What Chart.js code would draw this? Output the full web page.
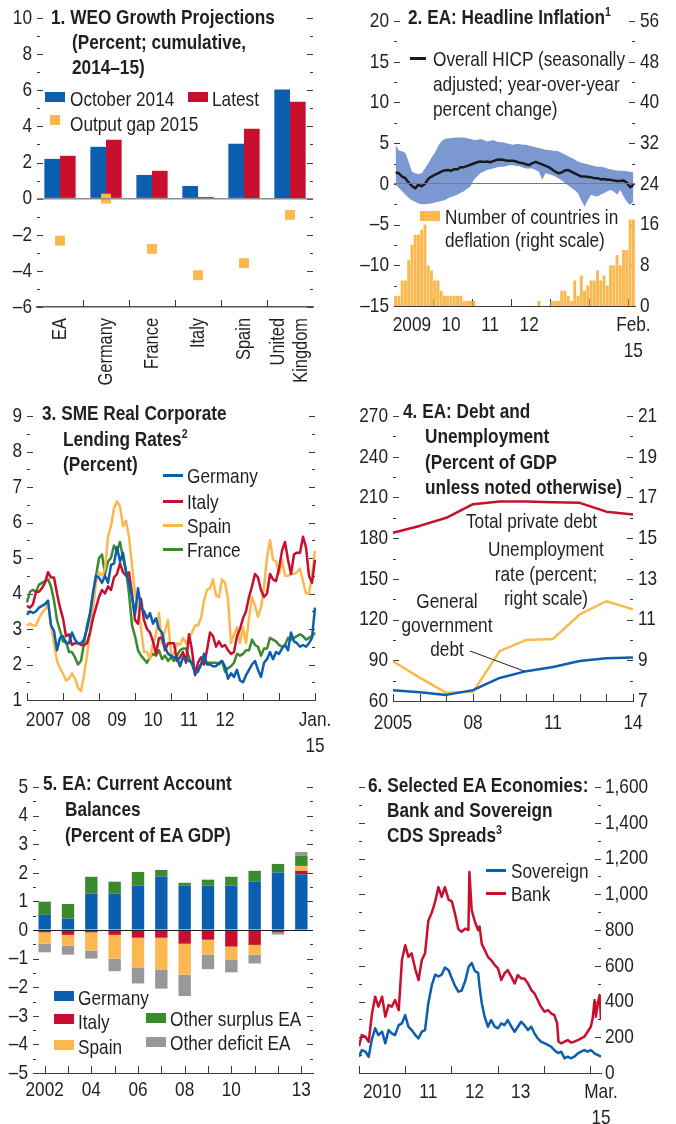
<!DOCTYPE html>
<html>
<head>
<meta charset="utf-8">
<script src="https://cdn.jsdelivr.net/npm/chart.js@4.4.1/dist/chart.umd.min.js"></script>
<style>
  body { margin: 0; background: #fff; }
  #page { position: relative; width: 676px; height: 1124px; overflow: hidden; color: #231f20;
    font-family: "Liberation Sans", Arial, sans-serif; }
  canvas { position: absolute; }
  /* condensed look: Liberation Sans squeezed to ~Arial Narrow */
  .t { position: absolute; white-space: nowrap; font-size: 21px; line-height: 25px;
    transform: scaleX(0.82); transform-origin: 0 0; }
  .c { transform-origin: 50% 0; text-align: center; }
  .h { font-weight: bold; }
  sup { font-size: 13px; line-height: 0; vertical-align: 8px; }
  .sw { position: absolute; }
</style>
</head>
<body>
<div id="page">
  <canvas id="c1" width="338" height="390" style="left:0;top:0"></canvas>
  <canvas id="c2" width="338" height="390" style="left:338px;top:0"></canvas>
  <canvas id="c3" width="338" height="375" style="left:0;top:390px"></canvas>
  <canvas id="c4" width="338" height="375" style="left:338px;top:390px"></canvas>
  <canvas id="c5" width="338" height="359" style="left:0;top:765px"></canvas>
  <canvas id="c6" width="338" height="359" style="left:338px;top:765px"></canvas>

  <!-- 1 -->
  <div class="t h" style="left:51px;top:4px;padding-left:25.6px;text-indent:-25.6px">1. WEO Growth Projections<br>(Percent; cumulative,<br>2014–15)</div>
  <div class="sw" style="left:45px;top:92px;width:20px;height:10px;background:#0b5fae"></div>
  <div class="t" style="left:70px;top:86px">October 2014</div>
  <div class="sw" style="left:188px;top:92px;width:20px;height:10px;background:#c8102e"></div>
  <div class="t" style="left:212px;top:86px">Latest</div>
  <div class="sw" style="left:50px;top:115px;width:10px;height:10px;background:#fbb84f"></div>
  <div class="t" style="left:70px;top:111px">Output gap 2015</div>

  <!-- 2 -->
  <div class="t h" style="left:408px;top:4px">2. EA: Headline Inflation<sup>1</sup></div>
  <div class="sw" style="left:410px;top:57px;width:16px;height:3px;background:#1a1a1a"></div>
  <div class="t" style="left:433px;top:46px">Overall HICP (seasonally<br>adjusted; year-over-year<br>percent change)</div>
  <div class="sw" style="left:420px;top:211px;width:20px;height:10px;background:#fbb84f"></div>
  <div class="t" style="left:445px;top:205px;line-height:23px">Number of countries in<br>deflation (right scale)</div>

  <!-- 3 -->
  <div class="t h" style="left:42px;top:400px;line-height:25.5px;padding-left:25.6px;text-indent:-25.6px">3. SME Real Corporate<br>Lending Rates<sup>2</sup><br>(Percent)</div>
  <div class="sw" style="left:163px;top:474px;width:20px;height:3px;background:#0b5fae"></div>
  <div class="t" style="left:187px;top:463px">Germany</div>
  <div class="sw" style="left:163px;top:500px;width:20px;height:3px;background:#c8102e"></div>
  <div class="t" style="left:187px;top:489px">Italy</div>
  <div class="sw" style="left:163px;top:524px;width:20px;height:3px;background:#fbb84f"></div>
  <div class="t" style="left:187px;top:513px">Spain</div>
  <div class="sw" style="left:163px;top:548px;width:20px;height:3px;background:#3b8a2e"></div>
  <div class="t" style="left:187px;top:537px">France</div>

  <!-- 4 -->
  <div class="t h" style="left:403px;top:398px;line-height:25.3px;padding-left:26.8px;text-indent:-26.8px">4. EA: Debt and<br>Unemployment<br>(Percent of GDP<br>unless noted otherwise)</div>
  <div class="t" style="left:466px;top:508px">Total private debt</div>
  <div class="t c" style="left:446px;top:537px;width:200px;line-height:24.5px">Unemployment<br>rate (percent;<br>right scale)</div>
  <div class="t c" style="left:387px;top:589px;width:120px;line-height:24px">General<br>government<br>debt</div>

  <!-- 5 -->
  <div class="t h" style="left:43px;top:770px;line-height:26px;padding-left:26.8px;text-indent:-26.8px">5. EA: Current Account<br>Balances<br>(Percent of EA GDP)</div>
  <div class="sw" style="left:54px;top:991px;width:20px;height:10px;background:#0b5fae"></div>
  <div class="t" style="left:78px;top:985px">Germany</div>
  <div class="sw" style="left:54px;top:1014px;width:20px;height:10px;background:#c8102e"></div>
  <div class="t" style="left:78px;top:1009px">Italy</div>
  <div class="sw" style="left:54px;top:1040px;width:20px;height:10px;background:#fbb84f"></div>
  <div class="t" style="left:78px;top:1034px">Spain</div>
  <div class="sw" style="left:146px;top:1013px;width:20px;height:10px;background:#3b8a2e"></div>
  <div class="t" style="left:170px;top:1006px">Other surplus EA</div>
  <div class="sw" style="left:146px;top:1037px;width:20px;height:10px;background:#98989b"></div>
  <div class="t" style="left:170px;top:1030px">Other deficit EA</div>

  <!-- 6 -->
  <div class="t h" style="left:368px;top:772px;padding-left:23.2px;text-indent:-23.2px">6. Selected EA Economies:<br>Bank and Sovereign<br>CDS Spreads<sup>3</sup></div>
  <div class="sw" style="left:486px;top:869px;width:20px;height:3px;background:#0b5fae"></div>
  <div class="t" style="left:511px;top:858px">Sovereign</div>
  <div class="sw" style="left:486px;top:892px;width:20px;height:3px;background:#c8102e"></div>
  <div class="t" style="left:511px;top:881px">Bank</div>
</div>

<script>
const BLUE = '#0b5fae', RED = '#c8102e', YELLOW = '#fbb84f', GREEN = '#3b8a2e';
const GREY = '#98989b', BAND = '#7c98d1', INK = '#231f20';
const FONT = '"Liberation Sans", Arial, sans-serif';
const NARROW = 0.82;

// 1. WEO growth projections
const weoCountries = ['EA', 'Germany', 'France', 'Italy', 'Spain', ['United', 'Kingdom']];
const weoOct2014 = [2.2, 2.87, 1.31, 0.7, 3.04, 6.04];
const weoLatest = [2.37, 3.26, 1.54, 0.09, 3.87, 5.37];
const outputGap2015 = [-2.33, 0.0, -2.78, -4.24, -3.57, -0.9];

// 2. headline inflation, Jan 2009 - Feb 2015
const deflationCount = [2, 2, 5, 5, 9, 12, 14, 14, 15, 16, 8, 7,
  5, 5, 3, 2, 2, 2, 2, 2, 2, 1, 1, 1,
  1, 0, 0, 0, 0, 0, 0, 0, 0, 0, 0, 0,
  0, 0, 0, 0, 0, 0, 0, 0, 1, 0, 0, 0,
  1, 1, 1, 3, 3, 2, 1, 5, 2, 6, 3, 4,
  5, 5, 7, 5, 6, 4, 8, 8, 10, 8, 11, 11,
  17, 17];
const hicp = [1.4, 1.3, 0.9, 0.7, 0.15, -0.25, -0.55, -0.1, -0.3, 0.0, 0.6, 0.9,
  1.1, 1.3, 1.5, 1.65, 1.7, 1.6, 1.8, 1.8, 2.05, 2.05, 2.2, 2.35,
  2.5, 2.65, 2.75, 2.7, 2.75, 2.65, 2.8, 2.95, 3.0, 2.95, 2.85, 2.85,
  2.85, 2.75, 2.6, 2.55, 2.4, 2.3, 2.55, 2.7, 2.55, 2.4, 2.2, 2.05,
  1.8, 1.5, 1.3, 1.4, 1.65, 1.7, 1.5, 1.3, 1.1, 0.9, 0.9, 0.85,
  0.8, 0.7, 0.7, 0.55, 0.6, 0.5, 0.5, 0.4, 0.35, 0.35, 0.4, 0.15,
  -0.4, -0.15];
const hicpHigh = [4.8, 4.1, 4.0, 3.8, 2.7, 1.5, 1.3, 1.2, 1.3, 1.9, 2.5, 3.2,
  3.8, 4.6, 5.2, 5.5, 5.6, 5.6, 5.7, 5.7, 5.7, 5.7, 5.6, 5.5,
  5.4, 5.4, 5.5, 5.4, 5.2, 5.3, 5.4, 5.2, 5.1, 5.1, 5.0, 4.9,
  4.8, 4.9, 4.9, 4.8, 4.8, 4.7, 4.6, 4.5, 4.4, 4.3, 4.2, 4.15,
  4.1, 4.05, 4.0, 3.8, 3.6, 3.4, 3.2, 3.0, 2.75, 2.6, 2.5, 2.4,
  2.3, 2.2, 2.1, 2.1, 2.05, 1.9, 1.8, 1.7, 1.65, 1.6, 1.6, 1.55,
  1.5, 1.4];
const hicpLow = [-0.1, -0.5, -0.9, -1.35, -1.7, -2.0, -2.2, -2.4, -2.5, -2.5, -2.45, -2.4,
  -2.3, -2.2, -2.1, -2.0, -1.8, -1.6, -1.5, -1.35, -1.1, -0.9, -0.6, -0.3,
  0.5, 0.9, 1.3, 1.5, 1.7, 1.8, 1.9, 2.0, 2.1, 2.1, 2.2, 2.3,
  2.3, 2.2, 2.2, 2.0, 1.9, 1.9, 1.9, 1.7, 1.5, 0.5, 1.3, 1.2,
  1.1, 0.9, 0.7, 0.4, 0.1, -0.2, -0.5, -0.8, -1.15, -2.0, -2.8, -2.0,
  -1.35, -1.5, -1.55, -1.3, -1.15, -0.9, -0.75, -0.95, -1.35, -0.75, -1.55, -2.2,
  -2.6, -2.2];
const inflTickIdx = [5, 17, 29, 41, 73];
const inflTickLabels = ['2009', '10', '11', '12', ['Feb.', '15']];

// 3. SME lending rates, Jan 2007 - Jan 2015
const smeGermany = [3.4, 3.5, 3.45, 3.5, 3.6, 3.65, 3.7, 3.8, 3.1, 2.95, 2.4, 2.75,
  2.8, 2.6, 2.6, 2.9, 2.7, 2.6, 2.6, 2.7, 3.0, 3.4, 4.0, 4.5,
  4.45, 4.3, 4.5, 4.3, 4.8, 4.85, 5.3, 4.9, 5.15, 4.6, 4.3, 3.9,
  3.4, 4.15, 3.6, 3.5, 3.3, 3.45, 3.15, 3.3, 3.0, 2.9, 2.5, 2.3,
  2.25, 2.2, 2.2, 1.95, 2.2, 2.15, 2.1, 2.05, 1.75, 1.8, 2.0, 2.3,
  2.0, 2.0, 1.95, 1.95, 2.05, 2.1, 1.95, 1.6, 1.75, 1.65, 1.85, 1.55,
  1.5, 1.7, 1.85, 2.0, 2.1, 1.85, 1.65, 2.05, 2.15, 2.35, 2.15, 2.35,
  2.3, 2.45, 2.55, 2.4, 2.9, 2.65, 2.6, 2.5, 2.55, 2.5, 2.6, 2.75,
  3.6];
const smeItaly = [3.65, 3.6, 3.7, 4.05, 4.05, 4.15, 4.3, 4.6, 4.45, 4.45, 4.0, 3.6,
  3.3, 2.8, 2.85, 2.55, 2.6, 2.6, 2.55, 2.55, 2.6, 2.9, 3.3, 3.6,
  3.9, 4.1, 4.0, 4.2, 4.1, 4.45, 4.55, 4.85, 4.6, 4.5, 4.6, 4.0,
  3.25, 3.15, 3.85, 3.25, 3.0, 2.9, 2.65, 2.3, 2.75, 2.75, 2.4, 2.6,
  2.6, 2.6, 2.1, 2.2, 2.35, 2.05, 2.85, 2.4, 1.7, 2.05, 2.2, 2.0,
  2.4, 2.9, 2.8, 2.5, 2.65, 2.5, 2.55, 2.4, 2.3, 2.35, 2.8, 3.0,
  3.3, 3.5, 3.9, 4.2, 4.55, 4.45, 4.1, 3.9, 4.0, 4.55, 4.4, 4.35,
  4.7, 5.2, 5.45, 4.95, 4.55, 5.1, 5.15, 5.15, 5.6, 5.3, 4.5, 4.3,
  4.95];
const smeSpain = [3.1, 3.15, 3.1, 3.1, 3.3, 3.45, 3.55, 3.7, 3.1, 2.6, 2.1, 1.9,
  1.75, 1.55, 1.6, 1.75, 1.6, 1.35, 1.25, 1.7, 2.25, 2.9, 3.6, 4.3,
  4.6, 4.5, 4.7, 5.6, 5.9, 6.4, 6.6, 6.45, 5.9, 6.05, 5.6, 4.8,
  4.0, 3.7, 3.0, 2.35, 2.35, 2.15, 2.6, 2.85, 3.45, 2.6, 2.95, 3.25,
  2.3, 2.3, 2.6, 2.55, 2.75, 2.6, 2.75, 2.9, 3.1, 3.1, 3.3, 3.8,
  4.1, 4.15, 4.4, 3.95, 3.9, 4.4, 4.3, 3.85, 2.6, 2.85, 3.05, 2.6,
  3.05, 2.6, 3.3, 3.9, 3.65, 3.35, 3.6, 4.2, 5.0, 5.5, 4.95, 4.9,
  4.55, 4.95, 4.5, 4.5, 4.55, 4.55, 4.6, 4.7, 4.35, 4.0, 4.0, 4.5,
  5.2];
const smeFrance = [3.75, 4.05, 4.1, 4.05, 4.25, 4.3, 4.35, 4.4, 4.2, 3.8, 3.25, 2.95,
  2.65, 2.65, 2.35, 2.35, 2.2, 2.0, 2.1, 2.6, 3.1, 3.45, 4.0, 4.5,
  5.0, 5.1, 4.55, 4.9, 5.0, 5.35, 5.2, 5.45, 5.0, 4.65, 4.0, 3.1,
  2.8, 2.4, 2.25, 2.15, 2.05, 2.2, 2.3, 2.25, 2.4, 2.15, 2.25, 2.1,
  2.2, 2.1, 2.25, 2.4, 2.45, 2.45, 2.2, 2.0, 1.8, 1.9, 2.0, 2.05,
  2.05, 2.05, 2.05, 2.05, 2.0, 2.1, 1.8, 1.9, 1.95, 2.05, 2.3, 2.25,
  2.3, 2.4, 2.4, 2.7, 2.55, 2.5, 2.25, 2.45, 2.45, 2.75, 2.7, 2.65,
  2.55, 2.5, 2.55, 2.75, 2.7, 2.75, 2.8, 2.85, 2.8, 2.7, 2.75, 2.8,
  2.9];
const smeTickIdx = [6, 18, 30, 42, 54, 66, 96];
const smeTickLabels = ['2007', '08', '09', '10', '11', '12', ['Jan.', '15']];

// 4. debt and unemployment
const debtYears = ['2005', '2006', '2007', '2008', '2009', '2010', '2011', '2012', '2013', '2014'];
const privateDebt = [184, 189, 195, 205, 207, 207, 206.5, 206, 199.5, 197.5];
const govDebt = [68, 66.5, 64.5, 68, 77, 82, 85, 89.5, 91.5, 92];
const unemployment = [8.95, 8.15, 7.4, 7.45, 9.45, 10.0, 10.05, 11.25, 11.9, 11.5];
const debtTickIdx = [0, 3, 6, 9];
const debtTickLabels = ['2005', '08', '11', '14'];

// 5. current account balances
const caYears = ['2002', '2003', '2004', '2005', '2006', '2007', '2008', '2009', '2010', '2011', '2012', '2013'];
const caGermany = [0.53, 0.40, 1.27, 1.27, 1.55, 1.87, 1.55, 1.55, 1.55, 1.70, 2.01, 1.95];
const caItaly = [-0.08, -0.17, -0.08, -0.17, -0.27, -0.27, -0.48, -0.34, -0.58, -0.52, -0.08, 0.12];
const caSpain = [-0.40, -0.38, -0.64, -0.83, -1.04, -1.11, -1.08, -0.52, -0.45, -0.34, 0, 0.17];
const caOtherSurplus = [0.46, 0.51, 0.59, 0.42, 0.48, 0.23, 0.10, 0.21, 0.31, 0.37, 0.30, 0.35];
const caOtherDeficit = [-0.30, -0.31, -0.28, -0.44, -0.56, -0.67, -0.75, -0.51, -0.45, -0.31, -0.08, 0.14];
const caTickIdx = [0, 2, 4, 6, 8, 11];
const caTickLabels = ['2002', '04', '06', '08', '10', '13'];

// 6. CDS spreads (time in years)
const cdsTime = [2010.00, 2010.06, 2010.14, 2010.21, 2010.28, 2010.35, 2010.42, 2010.50, 2010.57, 2010.64, 2010.71, 2010.78, 2010.86, 2010.93,
  2011.00, 2011.07, 2011.14, 2011.22, 2011.29, 2011.36, 2011.43, 2011.50, 2011.58, 2011.65, 2011.72, 2011.79, 2011.86, 2011.94,
  2012.01, 2012.08, 2012.15, 2012.22, 2012.30, 2012.37, 2012.39, 2012.44, 2012.51, 2012.58,
  2012.61, 2012.66, 2012.72, 2012.79, 2012.86, 2012.94,
  2013.01, 2013.08, 2013.15, 2013.22, 2013.30, 2013.37, 2013.44, 2013.51, 2013.58, 2013.66, 2013.73, 2013.80, 2013.87, 2013.94,
  2014.02, 2014.09, 2014.16, 2014.23, 2014.29, 2014.32, 2014.38, 2014.45, 2014.52, 2014.59, 2014.66, 2014.74, 2014.81, 2014.88, 2014.95,
  2015.02, 2015.06, 2015.10, 2015.13, 2015.17, 2015.21, 2015.24];
const cdsBank = [150, 212, 203, 175, 330, 427, 371, 427, 315, 380, 371, 408, 352, 632,
  715, 650, 669, 580, 520, 632, 669, 850, 900, 960, 1040, 986, 1040, 970,
  960, 890, 805, 790, 808, 800, 1125, 911, 846, 799,
  820, 720, 690, 650, 632, 604,
  585, 520, 557, 576, 538, 501, 548, 529, 529, 501, 464, 445, 408, 371,
  343, 352, 334, 324, 278, 175, 166, 175, 184, 170, 175, 184, 194, 203, 231,
  259, 306, 408, 315, 389, 436, 296];
const cdsSovereign = [91, 128, 119, 91, 190, 250, 212, 231, 166, 240, 222, 212, 268, 278,
  324, 259, 240, 212, 194, 231, 240, 390, 495, 550, 540, 550, 590, 575,
  530, 487, 455, 460, 515, 590, 600, 615, 570, 560,
  483, 389, 315, 259, 296, 259,
  250, 278, 268, 296, 259, 231, 259, 287, 268, 240, 259, 222, 194, 175,
  166, 157, 147, 128, 115, 112, 119, 82, 91, 82, 91, 110, 119, 128, 119,
  128, 120, 110, 105, 101, 95, 91];
const cdsTickVals = [2010.5, 2011.5, 2012.5, 2013.5, 2015.24];
const cdsTickLabels = ['2010', '11', '12', '13', ['Mar.', '15']];
const cdsYearStarts = [2010, 2011, 2012, 2013, 2014, 2015];

function monthLabels(y, m, n) {
  const out = [];
  for (let i = 0; i < n; i++) {
    out.push(y + '-' + String(m).padStart(2, '0'));
    m++; if (m > 12) { m = 1; y++; }
  }
  return out;
}

Chart.defaults.font.family = FONT;
Chart.defaults.font.size = 21;
Chart.defaults.color = INK;
Chart.defaults.animation = false;
Chart.defaults.events = [];
Chart.defaults.plugins.legend.display = false;
Chart.defaults.plugins.tooltip.enabled = false;
Chart.defaults.elements.point.radius = 0;
Chart.defaults.elements.line.tension = 0;
Chart.defaults.elements.line.borderJoinStyle = 'round';

// squeeze canvas text around its anchor so it reads like a narrow face
function narrowCtx(id) {
  const ctx = document.getElementById(id).getContext('2d');
  const fill = ctx.fillText.bind(ctx);
  ctx.fillText = function (text, x, y) {
    this.save();
    this.translate(x, y);
    this.scale(NARROW, 1);
    fill(text, 0, 0);
    this.restore();
  };
  return ctx;
}

const dash = v => String(v).replace('-', '\u2013');
const zeroOnly = c => ctx => (ctx.tick && ctx.tick.value === 0) ? c : 'rgba(0,0,0,0)';
const pick = (idx, labels) => (v, i) => { const k = idx.indexOf(i); return k < 0 ? '' : labels[k]; };

function fixBox(w, h) {
  return s => {
    if (w != null) s.width = w;
    if (h != null) s.height = h;
    s.paddingLeft = s.paddingRight = s.paddingTop = s.paddingBottom = 0;
  };
}

function yScale(pos, min, max, step, width, extra) {
  return Object.assign({
    position: pos, min: min, max: max,
    ticks: { stepSize: step, padding: 5, callback: dash },
    grid: { display: false, drawTicks: false },
    border: { display: false },
    afterFit: fixBox(width, null)
  }, extra || {});
}

function xScale(height, pad, callback, extra) {
  return Object.assign({
    grid: { display: false, drawTicks: false },
    border: { color: '#3a3a3a', width: 1 },
    ticks: { autoSkip: false, maxRotation: 0, minRotation: 0, padding: pad, callback: callback },
    afterFit: fixBox(null, height)
  }, extra || {});
}

// short tick dashes: major at scale ticks, minor halfway; x marks pointing up from the baseline
const tickMarks = {
  id: 'tickMarks',
  beforeDatasetsDraw(chart, args, o) {
    const ctx = chart.ctx, a = chart.chartArea;
    ctx.save();
    ctx.strokeStyle = '#3a3a3a';
    ctx.lineWidth = 1;
    ctx.beginPath();
    (o.y || []).forEach(m => {
      const s = chart.scales[m.scale];
      const vals = s.ticks.map(t => t.value);
      const x0 = m.side === 'left' ? a.left : a.right;
      const dir = m.side === 'left' ? 1 : -1;
      vals.forEach((v, i) => {
        const y = Math.round(s.getPixelForValue(v)) + 0.5;
        ctx.moveTo(x0, y); ctx.lineTo(x0 + dir * 6, y);
        if (i < vals.length - 1) {
          const ym = Math.round(s.getPixelForValue((v + vals[i + 1]) / 2)) + 0.5;
          ctx.moveTo(x0, ym); ctx.lineTo(x0 + dir * 3, ym);
        }
      });
    });
    (o.x || []).forEach(v => {
      const x = Math.round(chart.scales.x.getPixelForValue(v)) + 0.5;
      ctx.moveTo(x, a.bottom); ctx.lineTo(x, a.bottom - 7);
    });
    ctx.stroke();
    ctx.restore();
  }
};

// rotated category names for panel 1
const rotLabels = {
  id: 'rotLabels',
  afterDraw(chart) {
    const ctx = chart.ctx, a = chart.chartArea, s = chart.scales.x;
    ctx.save();
    ctx.font = '20px ' + FONT;
    ctx.fillStyle = INK;
    ctx.textAlign = 'right';
    ctx.textBaseline = 'middle';
    chart.data.labels.forEach((lab, i) => {
      const lines = [].concat(lab);
      const x = s.getPixelForValue(i);
      lines.forEach((ln, k) => {
        ctx.save();
        ctx.translate(x + (k - (lines.length - 1) / 2) * 23, a.bottom + 11);
        ctx.rotate(-Math.PI / 2);
        ctx.fillText(ln, 0, 0);
        ctx.restore();
      });
    });
    ctx.restore();
  }
};

// leader line from the "General government debt" label to its line
const leader = {
  id: 'leader',
  afterDatasetsDraw(chart) {
    const ctx = chart.ctx, i = 5;
    const x = chart.scales.x.getPixelForValue(i);
    const y = chart.scales.y.getPixelForValue(govDebt[i]);
    ctx.save();
    ctx.strokeStyle = INK;
    ctx.lineWidth = 1;
    ctx.beginPath();
    ctx.moveTo(132, 261);
    ctx.lineTo(x - 2, y);
    ctx.stroke();
    ctx.restore();
  }
};

// 1
new Chart(narrowCtx('c1'), {
  type: 'bar',
  data: {
    labels: weoCountries,
    datasets: [
      { type: 'line', data: outputGap2015, showLine: false, pointStyle: 'rect', pointRadius: 7,
        pointBackgroundColor: YELLOW, pointBorderColor: YELLOW, pointBorderWidth: 0 },
      { data: weoOct2014, backgroundColor: BLUE, categoryPercentage: 0.68, barPercentage: 1 },
      { data: weoLatest, backgroundColor: RED, categoryPercentage: 0.68, barPercentage: 1 }
    ]
  },
  options: {
    responsive: false,
    layout: { padding: { top: 18, right: 25 } },
    scales: {
      x: { grid: { display: false, drawTicks: false }, border: { color: '#555', width: 1.5 },
        ticks: { display: false }, afterFit: fixBox(null, 83) },
      y: yScale('left', -6, 10, 2, 37, {
        grid: { drawTicks: false, color: zeroOnly('#8c8c8c'), lineWidth: 1.5, z: 1 } })
    },
    plugins: { tickMarks: { y: [{ scale: 'y', side: 'left' }, { scale: 'y', side: 'right' }],
      x: [0.5, 1.5, 2.5, 3.5, 4.5] } }
  },
  plugins: [tickMarks, rotLabels]
});

// 2
new Chart(narrowCtx('c2'), {
  type: 'bar',
  data: {
    labels: monthLabels(2009, 1, hicp.length),
    datasets: [
      { type: 'line', data: hicp, yAxisID: 'y', borderColor: '#1a1a1a', borderWidth: 2.5, fill: false },
      { type: 'line', data: hicpHigh, yAxisID: 'y', borderWidth: 0, borderColor: 'rgba(0,0,0,0)',
        backgroundColor: BAND, fill: '+1' },
      { type: 'line', data: hicpLow, yAxisID: 'y', borderWidth: 0, borderColor: 'rgba(0,0,0,0)', fill: false },
      { data: deflationCount, yAxisID: 'y2', backgroundColor: YELLOW, categoryPercentage: 1, barPercentage: 0.9 }
    ]
  },
  options: {
    responsive: false,
    layout: { padding: { top: 21 } },
    scales: {
      x: xScale(84, 7, pick(inflTickIdx, inflTickLabels)),
      y: yScale('left', -15, 20, 5, 56, {
        grid: { drawTicks: false, color: zeroOnly('#7a7a7a'), lineWidth: 1, z: 1 } }),
      y2: yScale('right', 0, 56, 8, 41)
    },
    plugins: { tickMarks: { y: [{ scale: 'y', side: 'left' }, { scale: 'y2', side: 'right' }],
      x: [11.5, 23.5, 35.5, 47.5, 59.5, 71.5] } }
  },
  plugins: [tickMarks]
});

// 3
new Chart(narrowCtx('c3'), {
  type: 'line',
  data: {
    labels: monthLabels(2007, 1, smeGermany.length),
    datasets: [
      { data: smeGermany, borderColor: BLUE, borderWidth: 2.5 },
      { data: smeItaly, borderColor: RED, borderWidth: 2.5 },
      { data: smeSpain, borderColor: YELLOW, borderWidth: 2.5 },
      { data: smeFrance, borderColor: GREEN, borderWidth: 2.5 }
    ]
  },
  options: {
    responsive: false,
    layout: { padding: { top: 26, right: 23 } },
    scales: {
      x: xScale(65, 8, pick(smeTickIdx, smeTickLabels)),
      y: yScale('left', 1, 9, 1, 27)
    },
    plugins: { tickMarks: { y: [{ scale: 'y', side: 'left' }, { scale: 'y', side: 'right' }],
      x: [0, 12, 24, 36, 48, 60, 72, 84, 96] } }
  },
  plugins: [tickMarks]
});

// 4
new Chart(narrowCtx('c4'), {
  type: 'line',
  data: {
    labels: debtYears,
    datasets: [
      { data: privateDebt, yAxisID: 'y', borderColor: RED, borderWidth: 2.5 },
      { data: govDebt, yAxisID: 'y', borderColor: BLUE, borderWidth: 2.5 },
      { data: unemployment, yAxisID: 'y2', borderColor: YELLOW, borderWidth: 2.5 }
    ]
  },
  options: {
    responsive: false,
    layout: { padding: { top: 26 } },
    scales: {
      x: xScale(64, 10, pick(debtTickIdx, debtTickLabels)),
      y: yScale('left', 60, 270, 30, 55),
      y2: yScale('right', 7, 21, 2, 43)
    },
    plugins: { tickMarks: { y: [{ scale: 'y', side: 'left' }, { scale: 'y2', side: 'right' }],
      x: [0, 1, 2, 3, 4, 5, 6, 7, 8, 9] } }
  },
  plugins: [tickMarks, leader]
});

// 5
new Chart(narrowCtx('c5'), {
  type: 'bar',
  data: {
    labels: caYears,
    datasets: [
      { data: caGermany, backgroundColor: BLUE },
      { data: caItaly, backgroundColor: RED },
      { data: caSpain, backgroundColor: YELLOW },
      { data: caOtherSurplus, backgroundColor: GREEN },
      { data: caOtherDeficit, backgroundColor: GREY }
    ]
  },
  options: {
    responsive: false,
    layout: { padding: { top: 22, right: 25 } },
    datasets: { bar: { categoryPercentage: 0.53, barPercentage: 1 } },
    scales: {
      x: xScale(51, 5, pick(caTickIdx, caTickLabels), { stacked: true }),
      y: yScale('left', -5, 5, 1, 33, { stacked: true,
        grid: { drawTicks: false, color: zeroOnly('#231f20'), lineWidth: 1, z: 1 } })
    },
    plugins: { tickMarks: { y: [{ scale: 'y', side: 'left' }, { scale: 'y', side: 'right' }],
      x: [0, 1, 2, 3, 4, 5, 6, 7, 8, 9, 10, 11] } }
  },
  plugins: [tickMarks]
});

// 6
new Chart(narrowCtx('c6'), {
  type: 'line',
  data: {
    datasets: [
      { data: cdsTime.map((t, i) => ({ x: t, y: cdsSovereign[i] })), borderColor: BLUE, borderWidth: 2.5 },
      { data: cdsTime.map((t, i) => ({ x: t, y: cdsBank[i] })), borderColor: RED, borderWidth: 2.5 }
    ]
  },
  options: {
    responsive: false,
    layout: { padding: { top: 22, left: 21 } },
    scales: {
      x: xScale(51, 7, v => { const k = cdsTickVals.indexOf(v); return k < 0 ? '' : cdsTickLabels[k]; }, {
        type: 'linear', min: 2010, max: 2015.24,
        afterBuildTicks: s => { s.ticks = cdsTickVals.map(v => ({ value: v })); } }),
      y: yScale('right', 0, 1600, 200, 75, {
        ticks: { stepSize: 200, padding: 4, callback: v => v.toLocaleString('en-US') } })
    },
    plugins: { tickMarks: { y: [{ scale: 'y', side: 'left' }, { scale: 'y', side: 'right' }],
      x: cdsYearStarts } }
  },
  plugins: [tickMarks]
});
</script>
</body>
</html>
